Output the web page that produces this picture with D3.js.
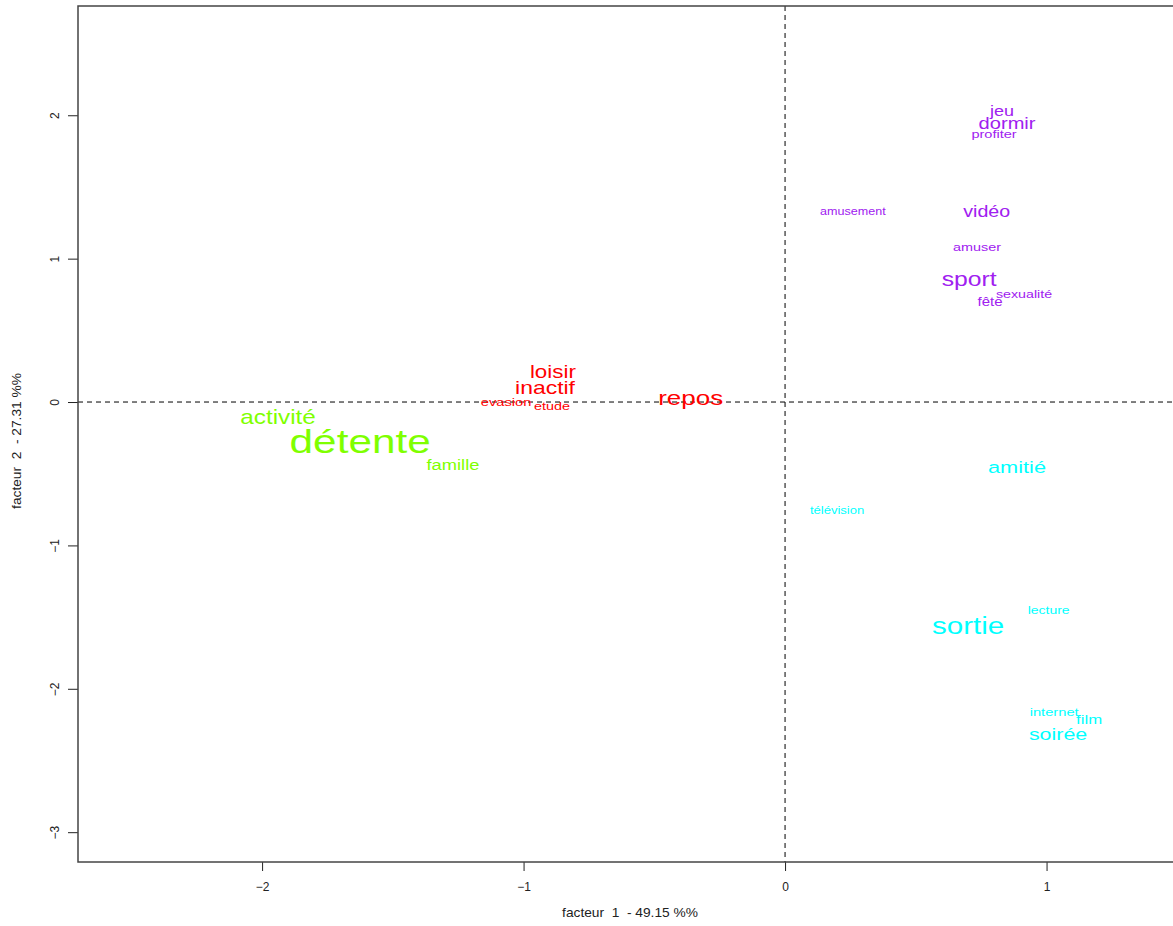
<!DOCTYPE html>
<html><head><meta charset="utf-8">
<script src="https://cdn.jsdelivr.net/npm/d3@7"></script>
<style>body{margin:0;background:#fff}svg{display:block}text{white-space:pre}</style>
</head><body>
<script>
// words, coordinates on factor 1 and 2, relative size (cex), group
const words  = ["jeu","dormir","profiter","amusement","vidéo","amuser","sport","sexualité","fête",
                "loisir","inactif","evasion","etude","repos",
                "activité","détente","famille",
                "amitié","télévision","sortie","lecture","internet","film","soirée"];
const factor1 = [0.830,0.849,0.799,0.259,0.771,0.734,0.704,0.914,0.784,
                 -0.888,-0.918,-1.067,-0.891,-0.361,
                 -1.939,-1.625,-1.270,
                 0.887,0.199,0.700,1.008,1.029,1.163,1.044];
const factor2 = [2.031,1.942,1.869,1.332,1.329,1.084,0.858,0.753,0.694,
                 0.211,0.105,0.002,-0.028,0.026,
                 -0.109,-0.272,-0.439,
                 -0.453,-0.758,-1.560,-1.457,-2.160,-2.211,-2.315];
const cexs   = [1.20,1.34,0.97,0.84,1.31,0.96,1.65,0.95,1.00,
                1.49,1.53,0.98,0.96,1.73,
                1.62,2.82,1.22,
                1.45,0.87,1.97,0.93,0.98,1.12,1.43];
const groups = [1,1,1,1,1,1,1,1,1, 2,2,2,2,2, 3,3,3, 4,4,4,4,4,4,4];
const groupColors = ["#A020F0","#FF0000","#7FFF00","#00FFFF"];
const xTicks = [-2,-1,0,1];
const yTicks = [-3,-2,-1,0,1,2];
const xLabel = "facteur  1  - 49.15 %%";
const yLabel = "facteur  2  - 27.31 %%";

const W = 1173, H = 926;
const svg = d3.select("body").append("svg").attr("width", W).attr("height", H);
const x = d3.scaleLinear().domain([-2.704, 1.518]).range([78, 1182]);
const y = d3.scaleLinear().domain([-3.208, 2.762]).range([862, 6]);
const fs = d3.scaleLinear().domain([0, 1]).range([0, 12]);
const font = "'Liberation Sans', Arial, sans-serif";

// dashed reference lines
svg.append("line").attr("x1", x(0)).attr("x2", x(0)).attr("y1", 6).attr("y2", 862)
  .attr("stroke", "#000").attr("stroke-dasharray", "5,4").attr("stroke-width", 1);
svg.append("line").attr("x1", 78).attr("x2", 1182).attr("y1", y(0)).attr("y2", y(0))
  .attr("stroke", "#000").attr("stroke-dasharray", "5,4").attr("stroke-width", 1);

// axes
const xAxis = svg.append("g").attr("transform", "translate(0,862)")
  .call(d3.axisBottom(x).tickValues(xTicks).tickSize(9).tickPadding(11).tickFormat(d3.format("d")));
const yAxis = svg.append("g").attr("transform", "translate(78,0)")
  .call(d3.axisLeft(y).tickValues(yTicks).tickSize(10).tickFormat(d3.format("d")));
[xAxis, yAxis].forEach(a => {
  a.select(".domain").remove();
  a.selectAll(".tick line").attr("stroke", "#222");
  a.selectAll(".tick text").attr("font-family", font).attr("font-size", 12).attr("fill", "#222");
});
yAxis.selectAll(".tick text")
  .attr("x", null).attr("dy", null)
  .attr("text-anchor", "middle").attr("dominant-baseline", "central")
  .attr("transform", "translate(-23,0) rotate(-90)");

// frame
svg.append("rect").attr("x", 78).attr("y", 6).attr("width", 1104).attr("height", 856)
  .attr("fill", "none").attr("stroke", "#444").attr("stroke-width", 1.5);

// axis titles
svg.append("text").attr("transform", "translate(630,917) scale(1.1,1)").attr("text-anchor", "middle")
  .attr("font-family", font).attr("font-size", 12.5).attr("fill", "#222").text(xLabel);
svg.append("text").attr("transform", "translate(21,441) rotate(-90) scale(1.1,1)").attr("text-anchor", "middle")
  .attr("font-family", font).attr("font-size", 12.5).attr("fill", "#222").text(yLabel);

// words
svg.append("g").selectAll("text").data(words).join("text")
  .attr("transform", (d, i) => `translate(${x(factor1[i])},${y(factor2[i])}) scale(1.25,1)`)
  .attr("text-anchor", "middle")
  .attr("dominant-baseline", "central")
  .attr("font-family", font)
  .attr("font-size", (d, i) => fs(cexs[i]))
  .attr("fill", (d, i) => groupColors[groups[i] - 1])
  .text(d => d);
</script>
</body></html>
